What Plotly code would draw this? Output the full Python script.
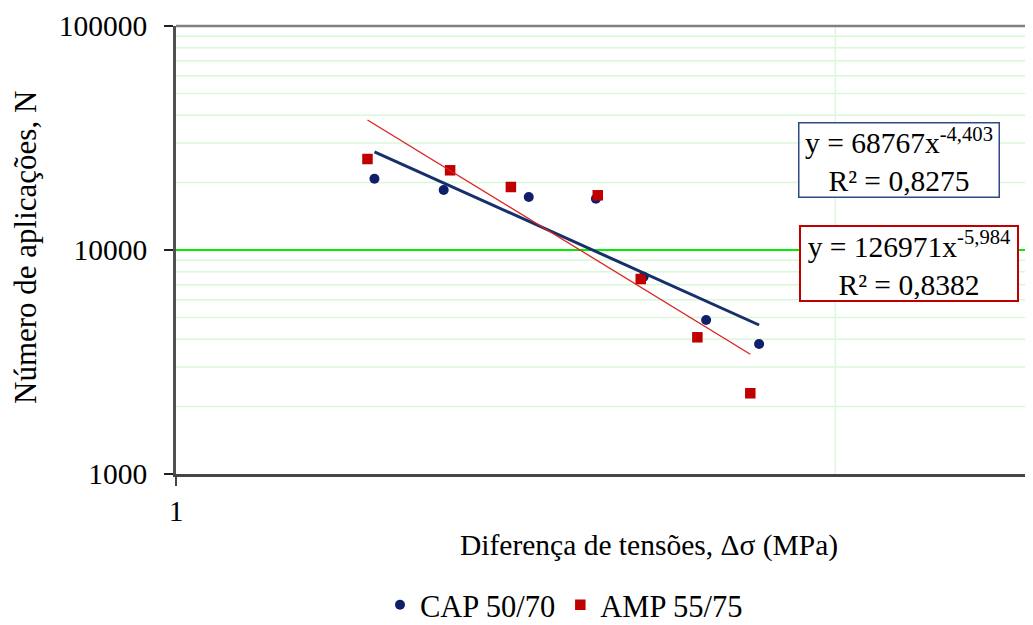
import math
import plotly.graph_objects as go

# ---- data ----
cap_x = [1.232, 1.325, 1.449, 1.555, 1.635, 1.746, 1.846]
cap_y = [20810, 18530, 17240, 16940, 7600, 4870, 3805]
amp_x = [1.223, 1.334, 1.422, 1.558, 1.630, 1.730, 1.829]
amp_y = [25480, 22690, 19110, 17550, 7420, 4077, 2293]

# power trendlines shown on the chart: y = a * x^b
cap_a, cap_b, cap_r2 = 68767, -4.403, "0,8275"
amp_a, amp_b, amp_r2 = 126971, -5.984, "0,8382"

y_major = [10000]
y_minor = [2000, 3000, 4000, 5000, 6000, 7000, 8000, 9000,
           20000, 30000, 40000, 50000, 60000, 70000, 80000, 90000]
x_grid = [2]

FONT = "Liberation Serif, Times New Roman, serif"
FS = 29.5
CAP_COL = "#0f1f6b"
CAP_LINE = "#172f6b"
AMP_COL = "#c00000"
AMP_LINE = "#dd2020"

# page body has an 8px margin; the figure is sized so the plot lands where the reference has it
OFF = 8
W, H = 1033 - OFF, 625 - OFF
PL, PT, PB = 176 - OFF, 26 - OFF, 474 - OFF   # plot left / top / bottom (figure px)
PW, PH = W - PL, PB - PT

def px(xs):   # screen px -> paper x
    return (xs - OFF - PL) / PW

def py(ys):   # screen px -> paper y
    return (PB - (ys - OFF)) / PH

def trend(xs, a, b):
    xe = [min(xs), max(xs)]
    return xe, [a * v ** b for v in xe]

fig = go.Figure()
fig.add_trace(go.Scatter(x=cap_x, y=cap_y, mode="markers", name="CAP 50/70",
                         marker=dict(symbol="circle", size=10, color=CAP_COL)))
fig.add_trace(go.Scatter(x=amp_x, y=amp_y, mode="markers", name="AMP 55/75",
                         marker=dict(symbol="square", size=10.5, color=AMP_COL)))
tx, ty = trend(cap_x, cap_a, cap_b)
fig.add_trace(go.Scatter(x=tx, y=ty, mode="lines", showlegend=False,
                         line=dict(color=CAP_LINE, width=3)))
tx, ty = trend(amp_x, amp_a, amp_b)
fig.add_trace(go.Scatter(x=tx, y=ty, mode="lines", showlegend=False,
                         line=dict(color=AMP_LINE, width=1.3)))

shapes = []
for v in y_minor:
    shapes.append(dict(type="line", xref="paper", x0=0, x1=1, yref="y", y0=v, y1=v,
                       line=dict(color="#d8f8d8", width=1.5), layer="below"))
for v in x_grid:
    shapes.append(dict(type="line", yref="paper", y0=0, y1=1, xref="x", x0=v, x1=v,
                       line=dict(color="#e0f6e0", width=1.5), layer="below"))
for v in y_major:
    shapes.append(dict(type="line", xref="paper", x0=0, x1=1, yref="y", y0=v, y1=v,
                       line=dict(color="#00ee00", width=2), layer="below"))
shapes.append(dict(type="line", xref="paper", x0=0, x1=1, yref="paper", y0=1, y1=1,
                   line=dict(color="#808080", width=2.5), layer="below"))

def fmt(v):
    return f"{v:.3f}".replace(".", ",")

annotations = [
    dict(text="Número de aplicações, N", xref="paper", yref="paper",
         x=px(25), y=py(248), xanchor="center", yanchor="middle",
         textangle=-90, showarrow=False, font=dict(family=FONT, size=31, color="black")),
    dict(text="Diferença de tensões, Δσ (MPa)", xref="paper", yref="paper",
         x=px(649), y=py(545), xanchor="center", yanchor="middle",
         showarrow=False, font=dict(family=FONT, size=FS, color="black")),
    dict(text=f"y = {cap_a}x<sup>{fmt(cap_b)}</sup><br>R² = {cap_r2}",
         xref="paper", yref="paper", x=px(898.5), y=py(159.5),
         xanchor="center", yanchor="middle", showarrow=False,
         width=197, height=71, borderpad=1, bgcolor="white",
         bordercolor="#2e4a86", borderwidth=1.5,
         font=dict(family=FONT, size=FS, color="black")),
    dict(text=f"y = {amp_a}x<sup>{fmt(amp_b)}</sup><br>R² = {amp_r2}",
         xref="paper", yref="paper", x=px(909), y=py(263),
         xanchor="center", yanchor="middle", showarrow=False,
         width=214, height=71, borderpad=1, bgcolor="white",
         bordercolor="#c00000", borderwidth=2,
         font=dict(family=FONT, size=FS, color="black")),
]

fig.update_layout(
    width=W, height=H,
    margin=dict(l=PL, r=0, t=PT, b=H - PB, autoexpand=False),
    paper_bgcolor="white", plot_bgcolor="white",
    font=dict(family=FONT, size=FS, color="black"),
    shapes=shapes, annotations=annotations,
    showlegend=True,
    legend=dict(orientation="h", x=px(564), y=py(605),
                xanchor="center", yanchor="middle",
                font=dict(family=FONT, size=30.5, color="black"),
                bgcolor="rgba(0,0,0,0)"),
    xaxis=dict(type="log", range=[0, math.log10(2.462)], tickvals=[1], ticktext=["1"],
               showgrid=False, zeroline=False, showline=True, linecolor="#454545",
               linewidth=2.5, ticks="outside", ticklen=9, tickcolor="#454545",
               tickwidth=1.5, ticklabelstandoff=0, automargin=False,
               tickfont=dict(family=FONT, size=FS, color="black")),
    yaxis=dict(type="log", range=[3, 5], tickvals=[1000, 10000, 100000],
               ticktext=["1000", "10000", "100000"],
               showgrid=False, zeroline=False, showline=True, linecolor="#505050",
               linewidth=2.5, ticks="outside", ticklen=9, tickcolor="#222222",
               tickwidth=1.5, ticklabelstandoff=11, automargin=False,
               tickfont=dict(family=FONT, size=FS, color="black")),
)

fig.write_html("out.html")
